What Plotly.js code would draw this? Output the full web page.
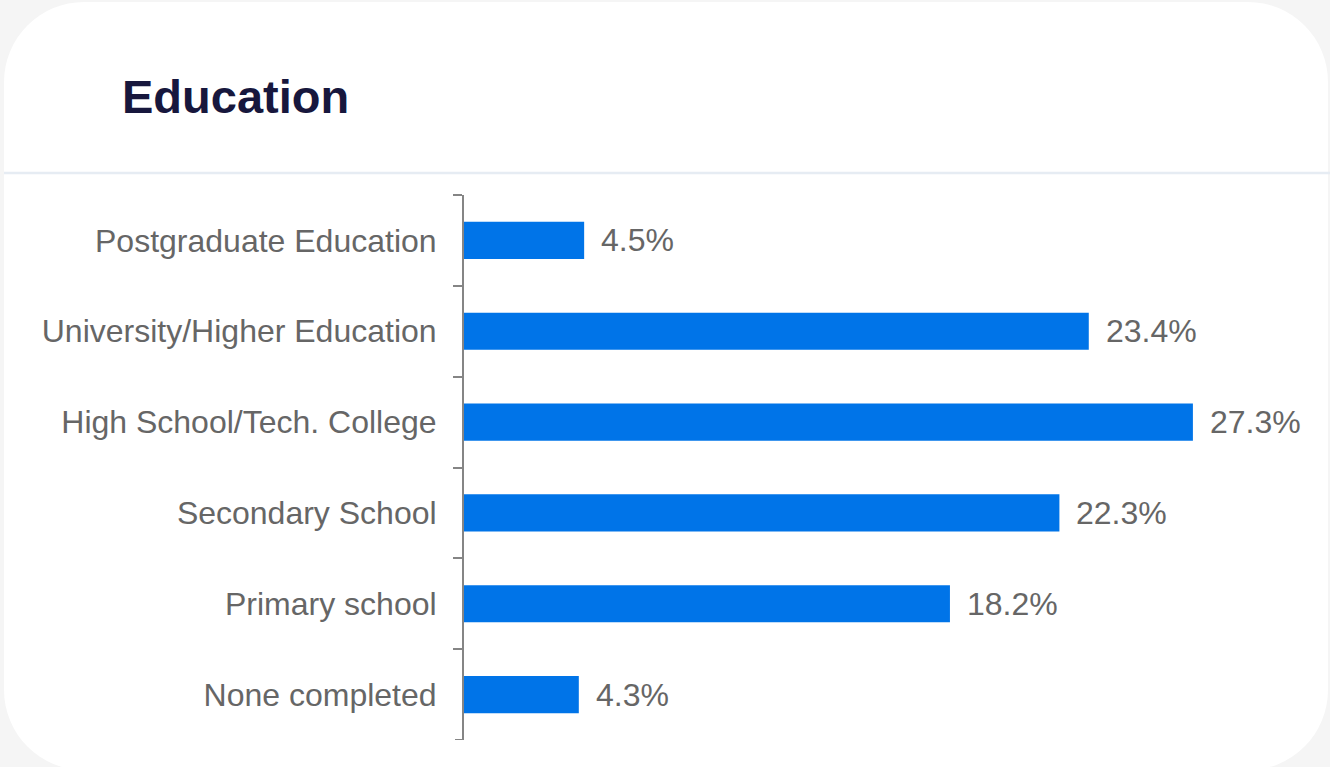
<!DOCTYPE html>
<html>
<head>
<meta charset="utf-8">
<script src="https://cdn.plot.ly/plotly-3.0.1.min.js"></script>
<style>
  html, body { margin: 0; padding: 0; background: #f5f5f5; width: 1330px; height: 767px; overflow: hidden; }
  #card { position: absolute; left: 4px; top: 2px; width: 1324px; height: 768px; background: #ffffff; border-radius: 80px; }
  #chart { position: absolute; left: 0; top: 0; width: 1330px; height: 767px; }
</style>
</head>
<body>
<div id="card"></div>
<div id="chart"></div>
<script>
// Data (top to bottom as shown)
const categories = [
  "Postgraduate Education",
  "University/Higher Education",
  "High School/Tech. College",
  "Secondary School",
  "Primary school",
  "None completed"
];
const values = [4.5, 23.4, 27.3, 22.3, 18.2, 4.3];
const valueLabels = values.map(v => v.toFixed(1) + "%");
const chartTitle = "Education";

const W = 1330, H = 767;
const plotL = 464, plotR = 1265, plotT = 195, plotB = 740;
const pw = plotR - plotL, ph = plotB - plotT;
const tickLen = 9;
const axisGray = "#858585";

const trace = {
  type: "bar",
  orientation: "h",
  x: values,
  y: categories,
  marker: { color: "#0074E8" },
  hoverinfo: "none",
  showlegend: false,
  cliponaxis: false
};

const annotations = values.map((v, i) => ({
  x: v, y: categories[i], xref: "x", yref: "y",
  text: valueLabels[i], showarrow: false,
  xanchor: "left", yanchor: "middle", xshift: 15,
  font: { family: "Liberation Sans, Arial, sans-serif", size: 32, color: "#666666" }
}));

const layout = {
  width: W, height: H,
  paper_bgcolor: "rgba(0,0,0,0)",
  plot_bgcolor: "rgba(0,0,0,0)",
  margin: { l: plotL, r: W - plotR, t: plotT, b: H - plotB, pad: 0 },
  title: {
    text: "<b>" + chartTitle + "</b>",
    xref: "container", yref: "container",
    x: 122 / W, xanchor: "left",
    y: 1 - 97 / H, yanchor: "middle",
    font: { family: "Liberation Sans, Arial, sans-serif", size: 47, color: "#17173d" }
  },
  bargap: 0.59,
  xaxis: {
    range: [0, 30],
    showgrid: false, zeroline: false, showline: false,
    showticklabels: false, ticks: "", fixedrange: true
  },
  yaxis: {
    type: "category",
    categoryorder: "array",
    categoryarray: categories,
    range: [categories.length - 0.5, -0.5],
    showgrid: false, zeroline: false,
    showline: true, linecolor: axisGray, linewidth: 2,
    ticks: "outside", tickson: "boundaries", ticklen: tickLen, tickcolor: axisGray, tickwidth: 2,
    ticklabelstandoff: 19,
    tickfont: { family: "Liberation Sans, Arial, sans-serif", size: 32, color: "#666666" },
    fixedrange: true
  },
  shapes: [
    {
      type: "line", xref: "paper", yref: "paper",
      x0: (4 - plotL) / pw, x1: (W - plotL) / pw,
      y0: 1 + (plotT - 173) / ph, y1: 1 + (plotT - 173) / ph,
      line: { color: "#e6ecf3", width: 2.5 }
    },
    {
      // closing boundary tick at the bottom end of the category axis
      type: "line", xref: "paper", yref: "y",
      x0: -tickLen / pw, x1: 0,
      y0: categories.length - 0.5, y1: categories.length - 0.5,
      line: { color: axisGray, width: 2 }
    }
  ],
  annotations: annotations
};

Plotly.newPlot("chart", [trace], layout, { displayModeBar: false, staticPlot: true });
</script>
</body>
</html>
